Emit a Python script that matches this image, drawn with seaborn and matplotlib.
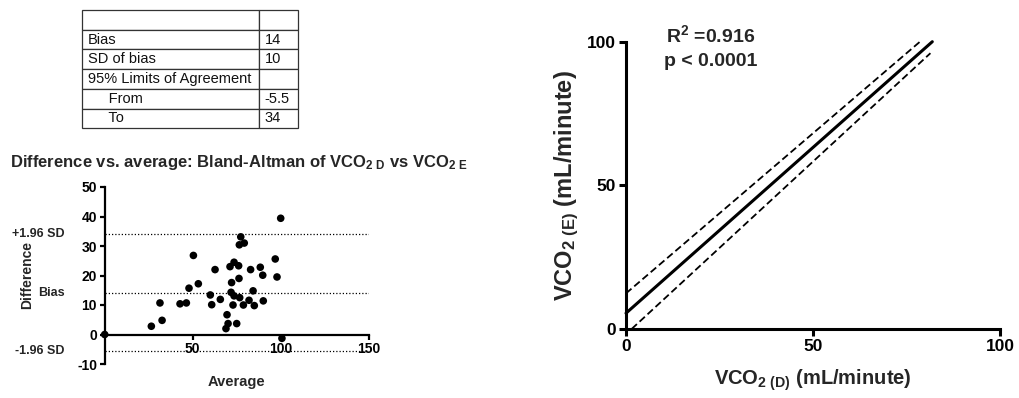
import matplotlib
matplotlib.use("Agg")
import matplotlib.pyplot as plt
import matplotlib.transforms as mtransforms
import seaborn as sns
import numpy as np

# ---------------- data ----------------
table_labels = ["", "Bias", "SD of bias", "95% Limits of Agreement", "     From", "     To"]
table_values = ["", "14", "10", "", "-5.5", "34"]

ba_avg = [0, 100.0, 77.3, 76.5, 79.3, 50.4, 96.9, 73.5, 71.2, 76.1, 62.7, 82.9, 88.4,
          89.8, 97.9, 76.3, 72.1, 53.2, 47.9, 84.3, 71.8, 73.5, 60.0, 76.7, 65.7, 82.0,
          90.1, 31.4, 42.8, 46.4, 60.8, 72.9, 78.8, 85.0, 69.5, 32.6, 26.5, 70.1, 75.0,
          68.9, 100.7]
ba_diff = [0, 39.4, 33.1, 30.4, 31.0, 26.8, 25.6, 24.5, 23.0, 23.3, 22.0, 22.0, 22.8,
           20.1, 19.5, 19.0, 17.6, 17.2, 15.7, 14.8, 14.3, 13.1, 13.4, 12.5, 11.9, 11.6,
           11.4, 10.7, 10.4, 10.7, 10.1, 10.0, 10.0, 9.8, 6.7, 4.8, 2.8, 3.7, 3.7,
           2.0, -1.3]
ba_ref_values = [34, 14, -5.5]
ba_ref_labels = ["+1.96 SD", "Bias", "-1.96 SD"]
ba_xticks = [50, 100, 150]
ba_yticks = [-10, 0, 10, 20, 30, 40, 50]

fit_x = [0, 81.9]
fit_y = [5.5, 100]
upper_x = [0, 78.6]
upper_y = [12.4, 100]
lower_x = [1.5, 81.4]
lower_y = [0, 96.0]
reg_ticks = [0, 50, 100]

# ---------------- style ----------------
sns.set_theme(style="ticks")
plt.rcParams["font.family"] = ["Liberation Sans", "DejaVu Sans"]
plt.rcParams["axes.unicode_minus"] = False
plt.rcParams["mathtext.fontset"] = "custom"
plt.rcParams["mathtext.rm"] = "Liberation Sans:bold"
plt.rcParams["mathtext.it"] = "Liberation Sans:bold"
plt.rcParams["mathtext.bf"] = "Liberation Sans:bold"
plt.rcParams["mathtext.sf"] = "Liberation Sans:bold"

fig = plt.figure(figsize=(10.2, 3.98), dpi=100)
W, H = 1020, 398

# ---------------- table ----------------
tax = fig.add_axes([81.7 / W, 1 - 128.3 / H, 216.6 / W, 118.3 / H])
tax.axis("off")
cell_text = [[a, b] for a, b in zip(table_labels, table_values)]
tbl = tax.table(cellText=cell_text, colWidths=[177.6 / 216.6, 39.0 / 216.6],
                cellLoc="left", bbox=[0, 0, 1, 1])
tbl.auto_set_font_size(False)
for (r, c), cell in tbl.get_celld().items():
    cell.set_edgecolor("#333333")
    cell.set_linewidth(0.9)
    cell.get_text().set_fontsize(10.5)
    cell.get_text().set_color("#111111")
    cell.PAD = 0.035 if c == 0 else 0.14

# ---------------- Bland-Altman ----------------
fig.text(10 / W, 1 - 162 / H,
         r"Difference vs. average: Bland-Altman of VCO$_{2\ D}$ vs VCO$_{2\ E}$",
         fontsize=12, fontweight="bold", ha="left", va="center")

ax1 = fig.add_axes([104.7 / W, 1 - 364 / H, 264 / W, 177 / H])
sns.scatterplot(x=ba_avg, y=ba_diff, ax=ax1, color="black", s=30,
                edgecolor="none", clip_on=False, zorder=5)
for v in ba_ref_values:
    ax1.axhline(v, color="black", lw=0.9, linestyle=(0, (1, 1.6)), zorder=2)
ax1.set_xlim(0, 150)
ax1.set_ylim(-10, 50)
ax1.set_xticks(ba_xticks)
ax1.set_yticks(ba_yticks)
ax1.spines["top"].set_visible(False)
ax1.spines["right"].set_visible(False)
ax1.spines["bottom"].set_position(("data", 0))
for s in ("left", "bottom"):
    ax1.spines[s].set_linewidth(1.6)
    ax1.spines[s].set_color("black")
ax1.tick_params(axis="both", direction="out", length=3.5, width=1.6, colors="black",
                labelsize=10, pad=2)
for lab in ax1.get_xticklabels() + ax1.get_yticklabels():
    lab.set_fontweight("bold")
trans = mtransforms.blended_transform_factory(ax1.transAxes, ax1.transData)
for v, lab in zip(ba_ref_values, ba_ref_labels):
    ax1.text(-0.153, v, lab, transform=trans, ha="right", va="center",
             fontsize=9, fontweight="bold")
ax1.set_ylabel("Difference", fontsize=10, fontweight="bold")
ax1.yaxis.label.set_va("center")
ax1.yaxis.set_label_coords(-0.292, 0.503)
ax1.set_xlabel("Average", fontsize=10.5, fontweight="bold")
ax1.xaxis.label.set_va("center")
ax1.xaxis.set_label_coords(0.5, -0.10)

# ---------------- regression ----------------
ax2 = fig.add_axes([626 / W, 1 - 329 / H, 374 / W, 287.3 / H])
sns.lineplot(x=fit_x, y=fit_y, ax=ax2, color="black", lw=2.2)
sns.lineplot(x=upper_x, y=upper_y, ax=ax2, color="black", lw=1.3, linestyle=(0, (4, 2)))
sns.lineplot(x=lower_x, y=lower_y, ax=ax2, color="black", lw=1.3, linestyle=(0, (4, 2)))
ax2.set_xlim(0, 100)
ax2.set_ylim(0, 100)
ax2.set_xticks(reg_ticks)
ax2.set_yticks(reg_ticks)
for l in ax2.lines:
    l.set_clip_on(False)
ax2.spines["top"].set_visible(False)
ax2.spines["right"].set_visible(False)
for s in ("left", "bottom"):
    ax2.spines[s].set_linewidth(2.2)
    ax2.spines[s].set_color("black")
ax2.tick_params(axis="both", direction="out", length=5, width=2.2, colors="black",
                labelsize=12.5, pad=2.5)
for lab in ax2.get_xticklabels() + ax2.get_yticklabels():
    lab.set_fontweight("bold")
ax2.set_xlabel(r"VCO$_{2\ (D)}$ (mL/minute)", fontsize=14.5, fontweight="bold")
ax2.xaxis.label.set_va("center")
ax2.xaxis.set_label_coords(0.5, -0.1775)
ax2.set_ylabel(r"VCO$_{2\ (E)}$ (mL/minute)", fontsize=17, fontweight="bold")
ax2.yaxis.label.set_va("center")
ax2.yaxis.set_label_coords(-0.1586, 0.5)

fig.text(711 / W, 1 - 35 / H, r"R$^{2}$ =0.916", fontsize=14, fontweight="bold",
         ha="center", va="center")
fig.text(711 / W, 1 - 61.7 / H, "p < 0.0001", fontsize=14, fontweight="bold",
         ha="center", va="center")

fig.savefig("out.png", dpi=100)
